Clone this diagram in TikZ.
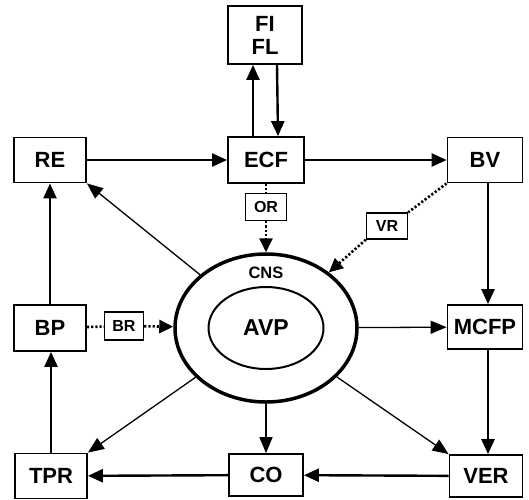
\documentclass[tikz,border=0pt]{standalone}
\usepackage{fontspec}
\setmainfont{Liberation Sans}
\usetikzlibrary{arrows.meta,shapes.geometric}
\begin{document}
\begin{tikzpicture}[x=1pt,y=-1pt,
 box/.style={draw, line width=1.8pt, inner sep=0pt, font=\fontsize{22}{24}\selectfont\bfseries, align=center},
 small/.style={draw, line width=1.3pt, inner sep=0pt, minimum width=41pt, minimum height=27pt, font=\fontsize{16}{18}\selectfont\bfseries},
 thickarrow/.style={line width=2.4pt, -{Triangle[length=15pt,width=13pt]}},
 thinarrow/.style={line width=1.3pt, -{Triangle[length=16pt,width=13pt]}},
 dotline/.style={line width=2.6pt, dash pattern=on 2.2pt off 2pt},
 dotarrow/.style={dotline, -{Triangle[length=14pt,width=13pt]}},
]
\useasboundingbox (0,0) rectangle (529,499);
% boxes
\node[box, minimum width=74pt, minimum height=58pt] (fi) at (265,35) {FI\\[-1pt]FL};
\node[box, minimum width=76pt, minimum height=46pt] (ecf) at (266,160) {ECF};
\node[box, minimum width=72pt, minimum height=45pt] (re) at (50,160) {RE};
\node[box, minimum width=75pt, minimum height=45pt] (bv) at (485,160) {BV};
\node[box, minimum width=75pt, minimum height=44pt] (mcfp) at (485,327) {MCFP};
\node[box, minimum width=73pt, minimum height=42pt] (ver) at (486,476) {VER};
\node[box, minimum width=74pt, minimum height=42pt] (co) at (266,475) {CO};
\node[box, minimum width=72pt, minimum height=45pt] (tpr) at (51,476) {TPR};
\node[box, minimum width=72pt, minimum height=46pt] (bp) at (50,328) {BP};
% small boxes
\node[small] (or) at (266,207) {OR};
\node[small, minimum height=26pt] (vr) at (387,226) {VR};
\node[small, minimum width=39pt, minimum height=28pt] (br) at (124,326) {BR};
% CNS ellipses
\node[draw, ellipse, line width=3.5pt, minimum width=182pt, minimum height=148pt, inner sep=0pt] (cns) at (266,328) {};
\node[draw, ellipse, line width=2pt, minimum width=115pt, minimum height=82pt, inner sep=0pt, font=\fontsize{23}{26}\selectfont\bfseries] (avp) at (266,328) {AVP};
\node[font=\fontsize{16.5}{19}\selectfont\bfseries] (cnslabel) at (266,273) {CNS};
% thick arrows
\draw[thickarrow] ([xshift=-13pt]ecf.north) -- ([xshift=-12pt]fi.south);
\draw[thickarrow] ([xshift=12pt]fi.south) -- ([xshift=12pt]ecf.north);
\draw[thickarrow] (re) -- (ecf);
\draw[thickarrow] (ecf) -- (bv);
\draw[thickarrow] ([xshift=3pt]bv.south) -- ([xshift=3pt]mcfp.north);
\draw[thickarrow] ([xshift=3pt]mcfp.south) -- ([xshift=2pt]ver.north);
\draw[thickarrow] (ver) -- (co);
\draw[thickarrow] (co) -- (tpr);
\draw[thickarrow] (tpr.north) -- (tpr.north |- bp.south);
\draw[thickarrow] (bp.north) -- (bp.north |- re.south);
% thin arrows from CNS
\draw[thinarrow] (cns) -- (re.south east);
\draw[thinarrow] (cns) -- (tpr.north east);
\draw[thinarrow] (cns) -- (ver.north west);
\draw[thinarrow] (cns) -- (co);
\draw[thinarrow] (cns) -- (mcfp);
% dotted reflexes
\draw[dotline] (ecf) -- (or);
\draw[dotarrow] (or) -- (cns);
\draw[dotline] (bv.south west) -- (vr.north east);
\draw[dotarrow] (vr.south west) -- (cns);
\draw[dotline] (bp) -- (br);
\draw[dotarrow] (br) -- (cns);
\end{tikzpicture}
\end{document}
